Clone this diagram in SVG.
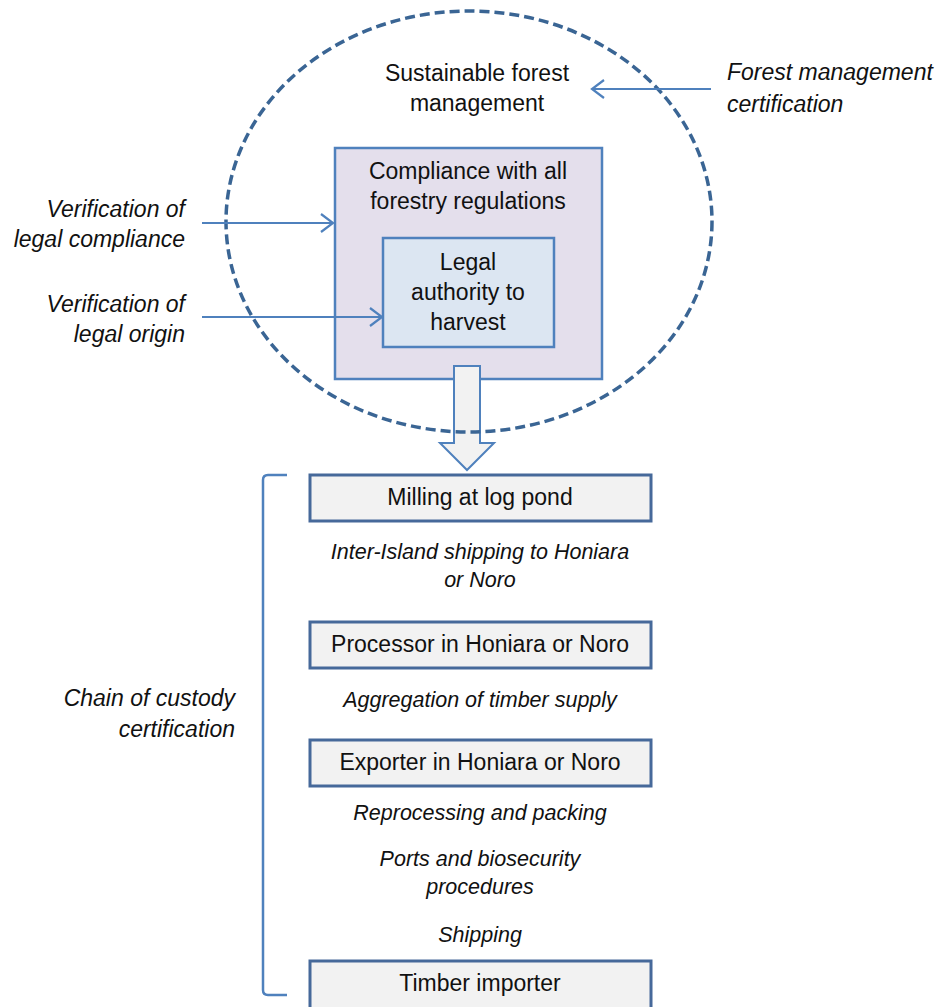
<svg xmlns="http://www.w3.org/2000/svg" width="944" height="1007" viewBox="0 0 944 1007">
<style>
.t{font-family:"Liberation Sans",Arial,sans-serif;font-size:23px;fill:#111;text-anchor:middle}
.i{font-family:"Liberation Sans",Arial,sans-serif;font-size:23px;fill:#111;font-style:italic}
.m{font-family:"Liberation Sans",Arial,sans-serif;font-size:21.5px;fill:#111;font-style:italic;text-anchor:middle}
.box{fill:#F2F2F2;stroke:#46699A;stroke-width:3}
.con{stroke:#4F81BD;stroke-width:2.2;fill:none}
</style>
<defs>
<marker id="ah" markerUnits="userSpaceOnUse" markerWidth="16" markerHeight="20" refX="13" refY="10" orient="auto" viewBox="0 0 16 20">
<path d="M1,1 L13,10 L1,19" fill="none" stroke="#4F81BD" stroke-width="2.2"/>
</marker>
</defs>
<rect width="944" height="1007" fill="#fff"/>
<g id="compliance">
<rect x="335" y="148" width="267" height="231" fill="#E4DFEC" stroke="#4F81BD" stroke-width="2.5"/>
<text class="t" x="468" y="179">Compliance with all</text>
<text class="t" x="468" y="209">forestry regulations</text>
</g>
<g id="legal-authority">
<rect x="383" y="238" width="171" height="109" fill="#DCE6F2" stroke="#4F81BD" stroke-width="2.5"/>
<text class="t" x="468" y="270">Legal</text>
<text class="t" x="468" y="300">authority to</text>
<text class="t" x="468" y="330">harvest</text>
</g>
<g id="block-arrow">
<path d="M454,366 L480,366 L480,443 L494,443 L467,470 L440,443 L454,443 Z" fill="#F2F2F2" stroke="#4F81BD" stroke-width="2"/>
</g>
<g id="sfm">
<ellipse cx="469" cy="221.5" rx="243" ry="210.5" fill="none" stroke="#3A6594" stroke-width="3.5" stroke-dasharray="10,5"/>
<text class="t" x="477" y="81">Sustainable forest</text>
<text class="t" x="477" y="111">management</text>
</g>
<g id="connectors">
<line class="con" x1="711" y1="89" x2="592" y2="89" marker-end="url(#ah)"/>
<line class="con" x1="202" y1="223" x2="333" y2="223" marker-end="url(#ah)"/>
<line class="con" x1="202" y1="317" x2="382" y2="317" marker-end="url(#ah)"/>
<path d="M287,475 L268,475 Q263,475 263,480 L263,990 Q263,995 268,995 L287,995" fill="none" stroke="#4F81BD" stroke-width="2.5"/>
</g>
<g id="fm-cert">
<text class="i" x="727" y="80">Forest management</text>
<text class="i" x="727" y="112">certification</text>
</g>
<g id="ver-compliance">
<text class="i" x="185" y="217" text-anchor="end">Verification of</text>
<text class="i" x="185" y="247" text-anchor="end">legal compliance</text>
</g>
<g id="ver-origin">
<text class="i" x="185" y="312" text-anchor="end">Verification of</text>
<text class="i" x="185" y="342" text-anchor="end">legal origin</text>
</g>
<g id="coc">
<text class="i" x="235" y="706" text-anchor="end">Chain of custody</text>
<text class="i" x="235" y="737" text-anchor="end">certification</text>
</g>
<g id="milling">
<rect class="box" x="310" y="475" width="341" height="46"/>
<text class="t" x="480" y="505">Milling at log pond</text>
</g>
<g id="inter-island">
<text class="m" x="480" y="559">Inter-Island shipping to Honiara</text>
<text class="m" x="480" y="587">or Noro</text>
</g>
<g id="processor">
<rect class="box" x="310" y="622" width="341" height="46"/>
<text class="t" x="480" y="652">Processor in Honiara or Noro</text>
</g>
<g id="aggregation">
<text class="m" x="480" y="707">Aggregation of timber supply</text>
</g>
<g id="exporter">
<rect class="box" x="310" y="740" width="341" height="46"/>
<text class="t" x="480" y="770">Exporter in Honiara or Noro</text>
</g>
<g id="reprocessing">
<text class="m" x="480" y="820">Reprocessing and packing</text>
</g>
<g id="ports">
<text class="m" x="480" y="866">Ports and biosecurity</text>
<text class="m" x="480" y="894">procedures</text>
</g>
<g id="shipping">
<text class="m" x="480" y="942">Shipping</text>
</g>
<g id="importer">
<rect class="box" x="310" y="961" width="341" height="60"/>
<text class="t" x="480" y="991">Timber importer</text>
</g>
</svg>
